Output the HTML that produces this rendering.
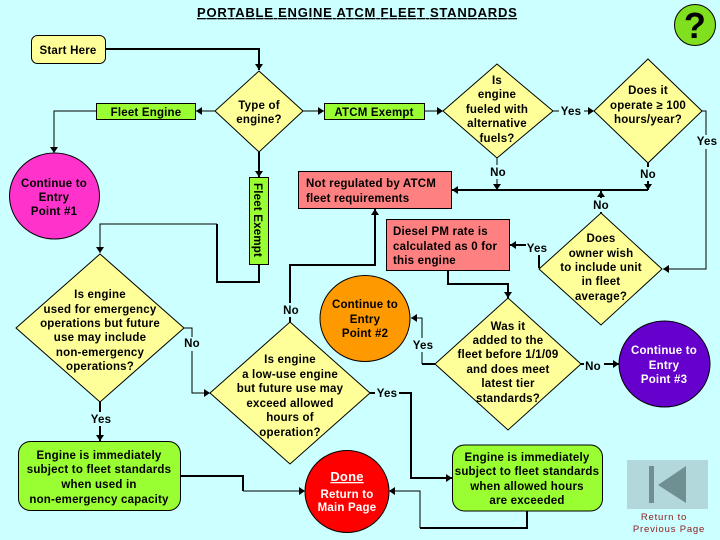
<!DOCTYPE html>
<html><head><meta charset="utf-8"><style>
html,body{margin:0;padding:0;background:#CCFFFF}
svg{display:block}
text{font-family:"Liberation Sans",Arial,sans-serif;font-size:11.5px;font-weight:bold;text-anchor:middle;fill:#000;letter-spacing:.2px}
.s{stroke:#000;fill:none;stroke-width:1}
.t{stroke:#000;fill:none;stroke-width:2}
.d{fill:#FFFF99;stroke:#000;stroke-width:1}
.g{fill:#99FF33;stroke:#000;stroke-width:1}
.r{fill:#FF8080;stroke:#000;stroke-width:1}
.l{text-anchor:start}
</style></head><body>
<svg width="720" height="540" viewBox="0 0 720 540" xmlns="http://www.w3.org/2000/svg">
<defs><marker id="a" markerUnits="userSpaceOnUse" markerWidth="8" markerHeight="8" refX="7" refY="4" orient="auto"><path d="M1 0L7 4L1 8z" fill="#000"/></marker></defs>
<rect width="720" height="540" fill="#CCFFFF"/>
<!-- connectors -->
<g>
<path class="t" d="M105 49H259V70" marker-end="url(#a)"/>
<path class="s" d="M215 111H196" marker-end="url(#a)"/>
<path class="s" d="M96 111H54V153" marker-end="url(#a)"/>
<path class="s" d="M303 111H324" marker-end="url(#a)"/>
<path class="t" d="M259 152V177" marker-end="url(#a)"/>
<path class="s" d="M425 111H443" marker-end="url(#a)"/>
<path class="s" d="M553 111H594" marker-end="url(#a)"/>
<path class="s" d="M702 111H706V269H663" marker-end="url(#a)"/>
<path class="s" d="M497 158V190" marker-end="url(#a)"/>
<path class="t" d="M648 163V190" marker-end="url(#a)"/>
<path class="t" d="M648 190H452" marker-end="url(#a)"/>
<path class="t" d="M601 213V191" marker-end="url(#a)"/>
<path class="t" d="M539 268V245H510" marker-end="url(#a)"/>
<path class="t" d="M290 322V265H375V209" marker-end="url(#a)"/>
<path class="t" d="M259 264V282H217V224"/>
<path class="s" d="M217 224H100V253" marker-end="url(#a)"/>
<path class="t" d="M448 271V284H508V298" marker-end="url(#a)"/>
<path class="t" d="M435 364H422"/>
<path class="s" d="M422 364V318H411" marker-end="url(#a)"/>
<path class="t" d="M581 364H619" marker-end="url(#a)"/>
<path class="t" d="M370 393H411V478H452" marker-end="url(#a)"/>
<path class="t" d="M527 511V528H420"/>
<path class="s" d="M420 528V491H389" marker-end="url(#a)"/>
<path class="t" d="M180 476H243V491"/>
<path class="s" d="M243 491H305" marker-end="url(#a)"/>
<path class="s" d="M184 328H192V393H210" marker-end="url(#a)"/>
<path class="t" d="M100 402V441" marker-end="url(#a)"/>
</g>
<!-- label backgrounds -->
<g fill="#CCFFFF">
<rect x="559" y="104" width="25" height="14"/>
<rect x="696" y="135" width="24" height="14"/>
<rect x="488" y="165" width="18" height="14"/>
<rect x="639" y="167" width="18" height="14"/>
<rect x="592" y="198" width="18" height="14"/>
<rect x="526" y="241" width="24" height="14"/>
<rect x="281" y="303" width="18" height="14"/>
<rect x="183" y="337" width="18" height="14"/>
<rect x="89" y="412" width="24" height="14"/>
<rect x="411" y="338" width="24" height="14"/>
<rect x="584" y="358" width="20" height="14"/>
<rect x="375" y="386" width="24" height="14"/>
</g>
<!-- shapes -->
<rect x="31.5" y="35.5" width="74" height="28" rx="6" class="d"/>
<polygon class="d" points="259,71 303,111 259,152 215,111"/>
<rect x="96.5" y="103.5" width="99" height="16" class="g"/>
<rect x="324.5" y="103.5" width="100" height="16" class="g"/>
<rect x="249.5" y="177.5" width="19" height="87" class="g"/>
<ellipse cx="54.500" cy="196" rx="45" ry="43" fill="#FF33CC" stroke="#000"/>
<rect x="298.500" y="171.500" width="153" height="37" class="r"/>
<rect x="386.500" y="219.500" width="123" height="51" class="r"/>
<polygon class="d" points="497,64 553,111 497,158 443,111"/>
<polygon class="d" points="648,59 702,111 648,163 594,111"/>
<polygon class="d" points="601,213 662,269 601,325 539,269"/>
<ellipse cx="365" cy="318.500" rx="45" ry="43" fill="#FF9900" stroke="#000"/>
<polygon class="d" points="508,298 581,364 508,430 435,364"/>
<ellipse cx="664.500" cy="364" rx="45.500" ry="43" fill="#6600CC" stroke="#000"/>
<polygon class="d" points="290,322 370,393 290,464 210,393"/>
<polygon class="d" points="100,254 184,328 100,402 16,328"/>
<rect x="18.500" y="441.500" width="162" height="69" rx="12" class="g"/>
<rect x="452.500" y="445" width="150" height="66" rx="12" class="g"/>
<ellipse cx="347" cy="491.500" rx="42" ry="41" fill="#FF0000" stroke="#000"/>
<circle cx="695" cy="25" r="20.500" fill="#80E020" stroke="#000"/>
<rect x="627" y="460" width="81" height="49" fill="#B2D8DC"/>
<rect x="649" y="466" width="5" height="37" fill="#6F8F93"/>
<polygon points="658,485 686,466 686,503" fill="#6F8F93"/>
<!-- text -->
<text x="357" y="17" style="font-size:13px" text-decoration="underline" textLength="320">PORTABLE ENGINE ATCM FLEET STANDARDS</text>
<text x="695" y="38" style="font-size:36px;font-weight:bold">?</text>
<text x="68" y="54">Start Here</text>
<text x="146" y="116">Fleet Engine</text>
<text x="259" y="109">Type of</text><text x="259" y="123">engine?</text>
<text x="374" y="116">ATCM Exempt</text>
<text transform="translate(254,220) rotate(90)" y="0">Fleet Exempt</text>
<text x="54" y="187">Continue to</text><text x="54" y="201">Entry</text><text x="54" y="215">Point #1</text>
<text class="l" x="306" y="187">Not regulated by ATCM</text><text class="l" x="306" y="202">fleet requirements</text>
<text class="l" x="393" y="235">Diesel PM rate is</text><text class="l" x="393" y="250">calculated as 0 for</text><text class="l" x="393" y="264">this engine</text>
<text x="497" y="84">Is</text><text x="497" y="98">engine</text><text x="497" y="113">fueled with</text><text x="497" y="127">alternative</text><text x="497" y="142">fuels?</text>
<text x="648" y="94">Does it</text><text x="648" y="109">operate ≥ 100</text><text x="648" y="123">hours/year?</text>
<text x="571" y="115">Yes</text><text x="707" y="145">Yes</text>
<text x="498" y="176">No</text><text x="648" y="178">No</text><text x="601" y="209">No</text>
<text x="537" y="252">Yes</text>
<text x="601" y="242">Does</text><text x="601" y="257">owner wish</text><text x="601" y="271">to include unit</text><text x="601" y="285">in fleet</text><text x="601" y="300">average?</text>
<text x="365" y="308">Continue to</text><text x="365" y="323">Entry</text><text x="365" y="337">Point #2</text>
<text x="291" y="314">No</text><text x="192" y="347">No</text>
<text x="423" y="349">Yes</text>
<text x="508" y="330">Was it</text><text x="508" y="344">added to the</text><text x="508" y="358">fleet before 1/1/09</text><text x="508" y="373">and does meet</text><text x="508" y="387">latest tier</text><text x="508" y="402">standards?</text>
<text x="593" y="370">No</text>
<text x="664" y="354" style="fill:#fff">Continue to</text><text x="664" y="369" style="fill:#fff">Entry</text><text x="664" y="383" style="fill:#fff">Point #3</text>
<text x="100" y="298">Is engine</text><text x="100" y="313">used for emergency</text><text x="100" y="327">operations but future</text><text x="100" y="341">use may include</text><text x="100" y="356">non-emergency</text><text x="100" y="370">operations?</text>
<text x="101" y="423">Yes</text>
<text x="290" y="363">Is engine</text><text x="290" y="378">a low-use engine</text><text x="290" y="392">but future use may</text><text x="290" y="407">exceed allowed</text><text x="290" y="421">hours of</text><text x="290" y="436">operation?</text>
<text x="387" y="397">Yes</text>
<text x="99" y="459">Engine is immediately</text><text x="99" y="473">subject to fleet standards</text><text x="99" y="488">when used in</text><text x="99" y="503">non-emergency capacity</text>
<text x="527" y="461">Engine is immediately</text><text x="527" y="475">subject to fleet standards</text><text x="527" y="490">when allowed hours</text><text x="527" y="504">are exceeded</text>
<text x="347" y="481" style="font-size:13px;fill:#fff" text-decoration="underline">Done</text>
<text x="347" y="498" style="fill:#fff">Return to</text><text x="347" y="511" style="fill:#fff">Main Page</text>
<text x="664" y="520" style="font-size:9.500px;font-weight:normal;fill:#8B1A1A;letter-spacing:.8px">Return to</text>
<text x="669" y="532" style="font-size:9.500px;font-weight:normal;fill:#8B1A1A;letter-spacing:.8px">Previous Page</text>
</svg>
</body></html>
